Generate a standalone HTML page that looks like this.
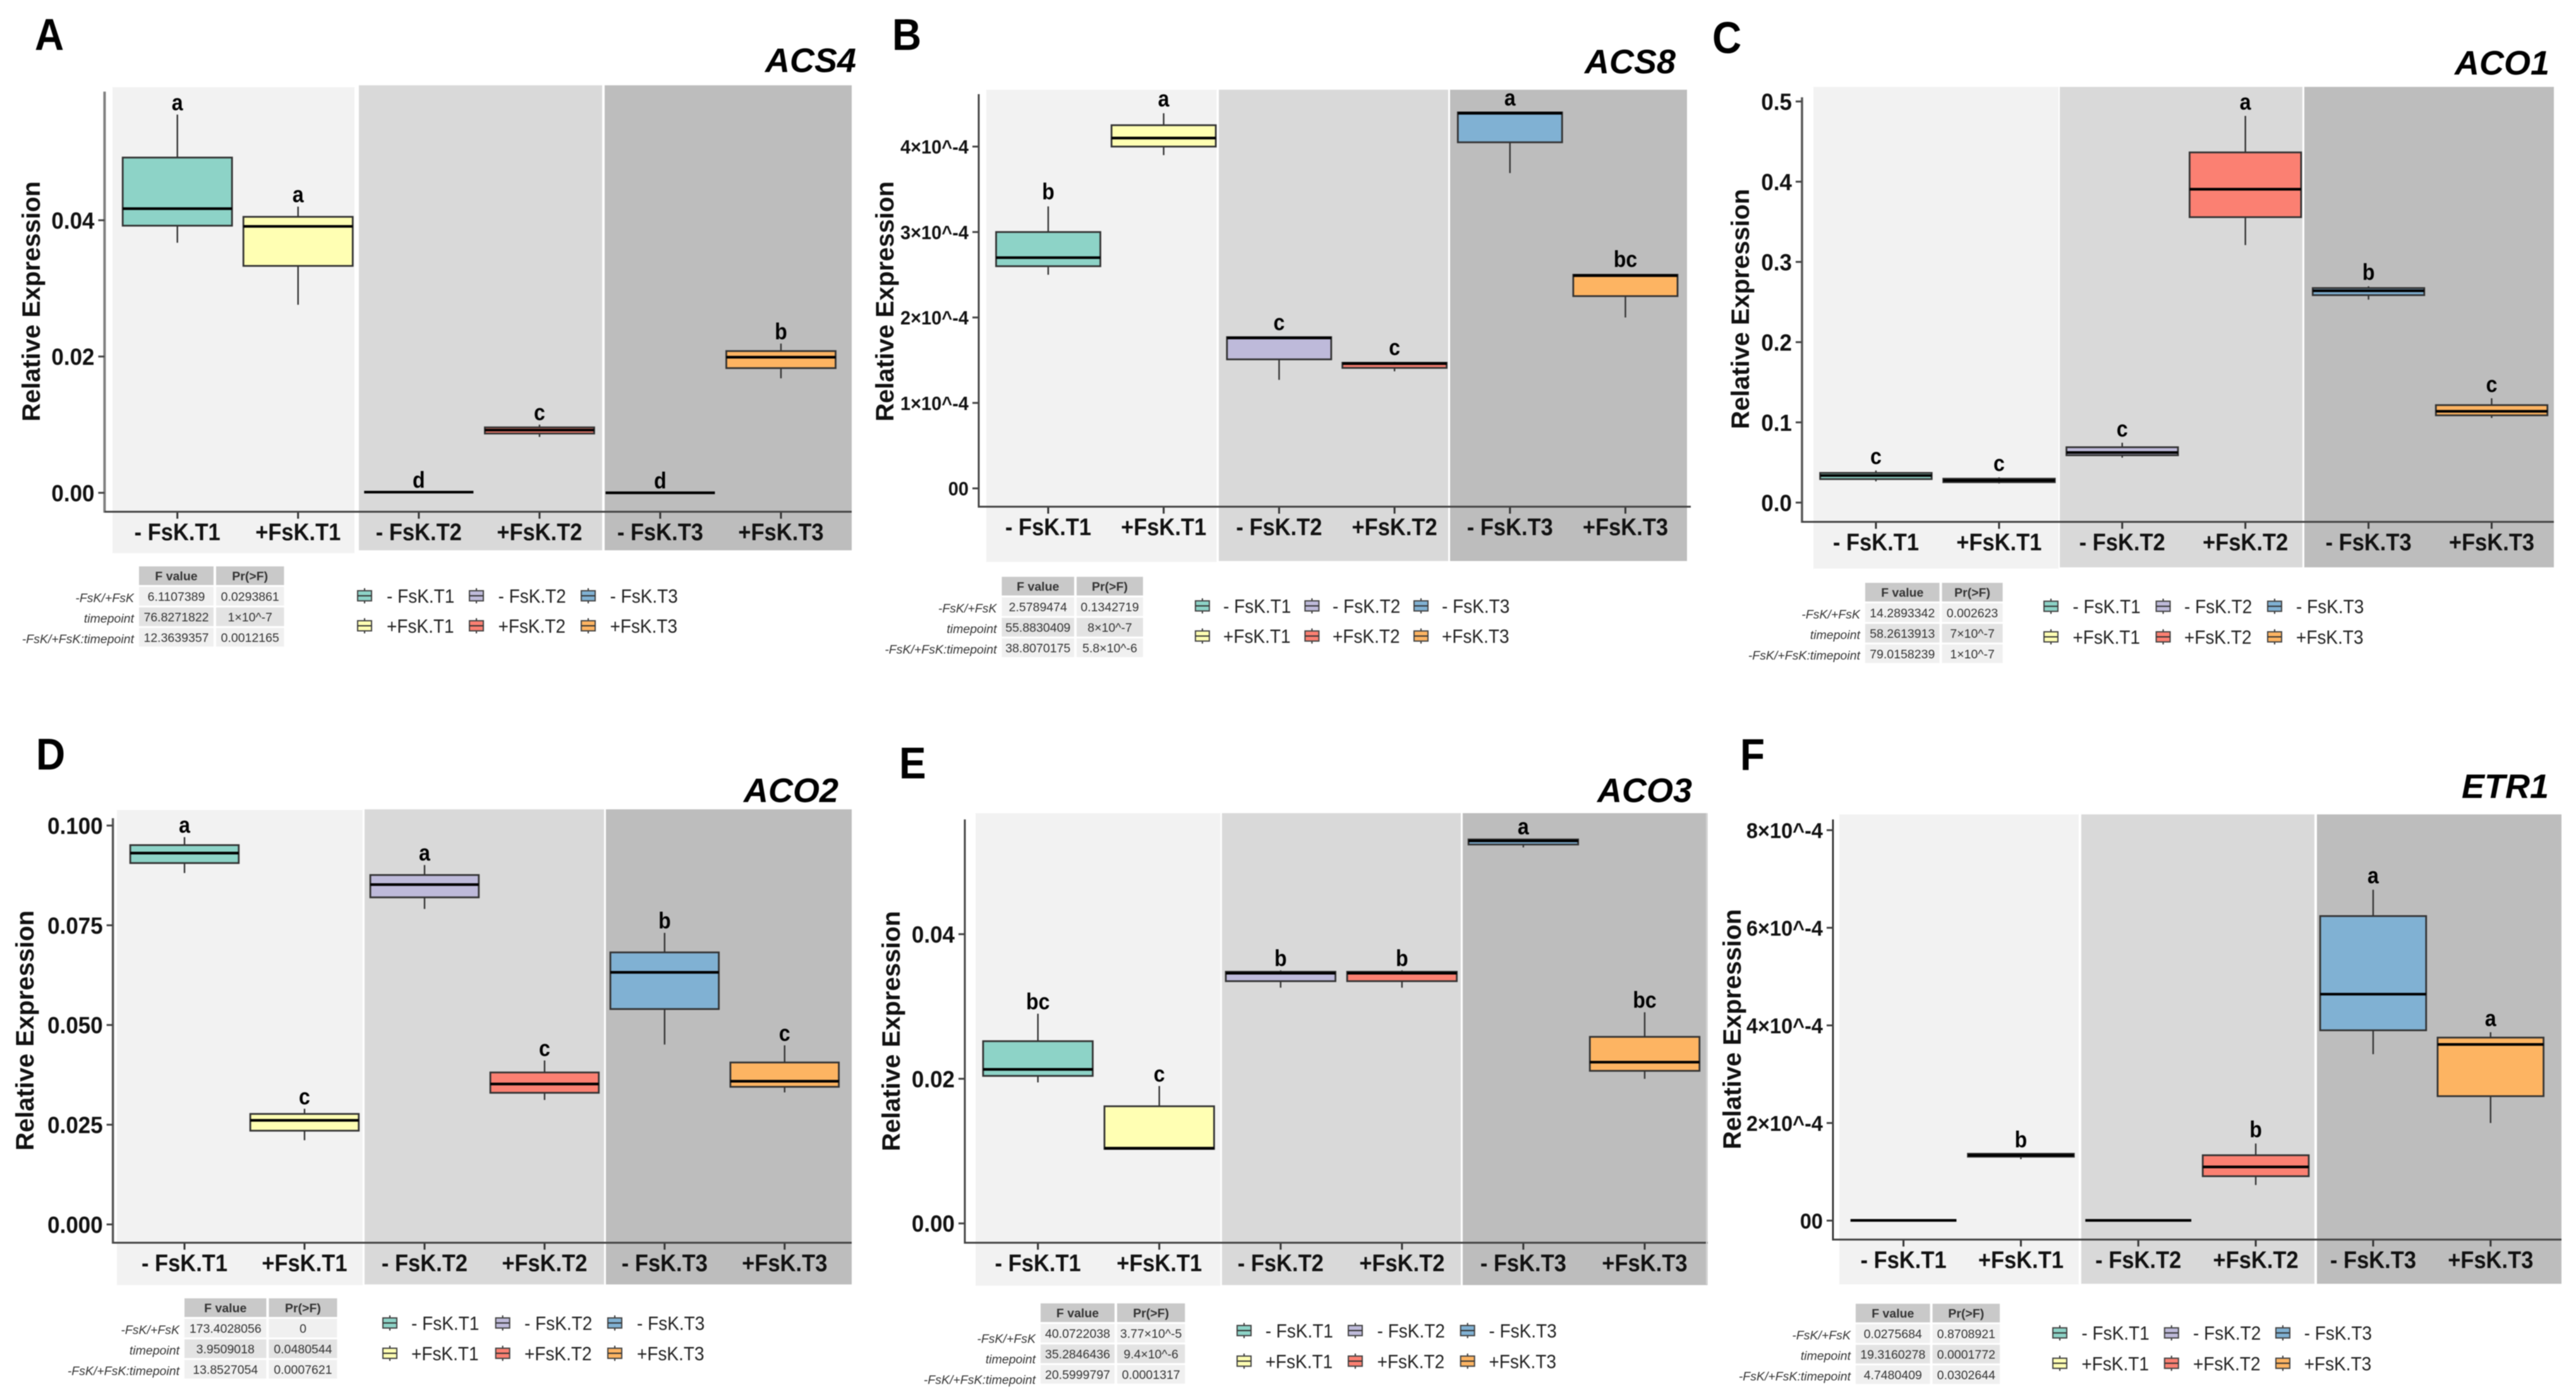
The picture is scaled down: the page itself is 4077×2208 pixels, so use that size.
<!DOCTYPE html>
<html lang="en">
<head>
<meta charset="utf-8">
<title>Relative expression of ethylene genes</title>
<style>
html,body{margin:0;padding:0;background:#fff;}
#figure{display:block;width:4077px;height:2208px;background:#fff;filter:blur(0.9px);font-family:"Liberation Sans",Arial,sans-serif;}
</style>
</head>
<body>
<svg id="figure" xmlns="http://www.w3.org/2000/svg" width="4077" height="2208" viewBox="0 0 4077 2208"></svg>
<script>
/* ---------- shared categories ---------- */
const categories = ['- FsK.T1', '+FsK.T1', '- FsK.T2', '+FsK.T2', '- FsK.T3', '+FsK.T3'];
const seriesColors = ['#8DD3C7', '#FFFFB3', '#BEBADA', '#FB8072', '#80B1D3', '#FDB462'];
const statHeaders = ['F value', 'Pr(>F)'];
const statRowLabels = ['-FsK/+FsK', 'timepoint', '-FsK/+FsK:timepoint'];

/* ---------- ACS4 ---------- */
const acs4High = [0.0555, 0.0420, 0.0001, 0.0100, 0.0000, 0.0219];
const acs4Q3 = [0.0492, 0.0405, 0.0001, 0.0096, 0.0000, 0.0208];
const acs4Median = [0.0417, 0.0391, 0.0001, 0.0092, 0.0000, 0.0199];
const acs4Q1 = [0.0392, 0.0333, 0.0001, 0.0087, 0.0000, 0.0183];
const acs4Low = [0.0367, 0.0276, 0.0001, 0.0082, 0.0000, 0.0168];
const acs4Letters = ['a', 'a', 'd', 'c', 'd', 'b'];
const acs4Ticks = [0, 0.02, 0.04];
const acs4TickLabels = ['0.00', '0.02', '0.04'];
const acs4FValues = ['6.1107389', '76.8271822', '12.3639357'];
const acs4PValues = ['0.0293861', '1×10^-7', '0.0012165'];

/* ---------- ACS8 ---------- */
const acs8High = [0.000330, 0.000439, 0.000177, 0.000148, 0.000440, 0.000251];
const acs8Q3 = [0.000300, 0.000425, 0.000177, 0.000147, 0.000440, 0.000250];
const acs8Median = [0.000270, 0.000410, 0.000176, 0.000146, 0.000439, 0.000249];
const acs8Q1 = [0.000260, 0.000400, 0.000151, 0.000141, 0.000405, 0.000225];
const acs8Low = [0.000250, 0.000390, 0.000127, 0.000137, 0.000369, 0.000200];
const acs8Letters = ['b', 'a', 'c', 'c', 'a', 'bc'];
const acs8Ticks = [0, 0.0001, 0.0002, 0.0003, 0.0004];
const acs8TickLabels = ['00', '1×10^-4', '2×10^-4', '3×10^-4', '4×10^-4'];
const acs8FValues = ['2.5789474', '55.8830409', '38.8070175'];
const acs8PValues = ['0.1342719', '8×10^-7', '5.8×10^-6'];

/* ---------- ACO1 ---------- */
const aco1High = [0.040, 0.0315, 0.0746, 0.482, 0.2696, 0.130];
const aco1Q3 = [0.037, 0.0298, 0.069, 0.4365, 0.2674, 0.1215];
const aco1Median = [0.0337, 0.0276, 0.0624, 0.3906, 0.264, 0.1138];
const aco1Q1 = [0.0293, 0.0254, 0.059, 0.3558, 0.2586, 0.1088];
const aco1Low = [0.0265, 0.0238, 0.056, 0.321, 0.253, 0.1055];
const aco1Letters = ['c', 'c', 'c', 'a', 'b', 'c'];
const aco1Ticks = [0, 0.1, 0.2, 0.3, 0.4, 0.5];
const aco1TickLabels = ['0.0', '0.1', '0.2', '0.3', '0.4', '0.5'];
const aco1FValues = ['14.2893342', '58.2613913', '79.0158239'];
const aco1PValues = ['0.002623', '7×10^-7', '1×10^-7'];

/* ---------- ACO2 ---------- */
const aco2High = [0.0971, 0.0290, 0.0901, 0.0411, 0.0731, 0.0449];
const aco2Q3 = [0.0951, 0.0277, 0.0876, 0.0381, 0.0682, 0.0406];
const aco2Median = [0.0931, 0.0261, 0.0852, 0.0352, 0.0632, 0.0359];
const aco2Q1 = [0.0906, 0.0235, 0.0820, 0.0330, 0.0540, 0.0345];
const aco2Low = [0.0881, 0.0211, 0.0791, 0.0312, 0.0451, 0.0331];
const aco2Letters = ['a', 'c', 'a', 'c', 'b', 'c'];
const aco2Ticks = [0, 0.025, 0.05, 0.075, 0.1];
const aco2TickLabels = ['0.000', '0.025', '0.050', '0.075', '0.100'];
const aco2FValues = ['173.4028056', '3.9509018', '13.8527054'];
const aco2PValues = ['0', '0.0480544', '0.0007621'];

/* ---------- ACO3 ---------- */
const aco3High = [0.0290, 0.0190, 0.0350, 0.0350, 0.0532, 0.0292];
const aco3Q3 = [0.0252, 0.0162, 0.0348, 0.0348, 0.0531, 0.0258];
const aco3Median = [0.0213, 0.0104, 0.0346, 0.0346, 0.0529, 0.0223];
const aco3Q1 = [0.0204, 0.0103, 0.0335, 0.0335, 0.0524, 0.0211];
const aco3Low = [0.0195, 0.0103, 0.0326, 0.0326, 0.0520, 0.0200];
const aco3Letters = ['bc', 'c', 'b', 'b', 'a', 'bc'];
const aco3Ticks = [0, 0.02, 0.04];
const aco3TickLabels = ['0.00', '0.02', '0.04'];
const aco3FValues = ['40.0722038', '35.2846436', '20.5999797'];
const aco3PValues = ['3.77×10^-5', '9.4×10^-6', '0.0001317'];

/* ---------- ETR1 ---------- */
const etr1High = [0.0000005, 0.000137, 0.0000005, 0.000158, 0.000678, 0.000386];
const etr1Q3 = [0.0000005, 0.000137, 0.0000005, 0.000134, 0.000624, 0.000375];
const etr1Median = [0.0000005, 0.000134, 0.0000005, 0.000110, 0.000464, 0.000361];
const etr1Q1 = [0.0000005, 0.000131, 0.0000005, 0.000091, 0.000390, 0.000255];
const etr1Low = [0.0000005, 0.000126, 0.0000005, 0.000073, 0.000341, 0.000200];
const etr1Letters = ['', 'b', '', 'b', 'a', 'a'];
const etr1Ticks = [0, 0.0002, 0.0004, 0.0006, 0.0008];
const etr1TickLabels = ['00', '2×10^-4', '4×10^-4', '6×10^-4', '8×10^-4'];
const etr1FValues = ['0.0275684', '19.3160278', '4.7480409'];
const etr1PValues = ['0.8708921', '0.0001772', '0.0302644'];

/* ---------- panel wiring (data + layout frame) ---------- */
const panels = [
 {id:'acs4', gene:'ACS4', letter:'A', high:acs4High, q3:acs4Q3, med:acs4Median, q1:acs4Q1, low:acs4Low, sig:acs4Letters, ticks:acs4Ticks, tickLabels:acs4TickLabels, fv:acs4FValues, pv:acs4PValues,
  frame:{lx:55, ly:79, titleR:1355, titleY:114, yTitleX:63, yTitleY:477, axisX:165.5, axisTop:145, axisY:810, axisR:1348, c0:280.7, c5:1236, boxW:173, zeroPx:780, refVal:0.04, refPx:348.6, tickSize:35, gap:7, axisColor:'#808080', axisW:4,
   bands:[[178,561,138,875.5],[568,953,135,871],[957,1348,135,871]],
   table:[220,896.5,119,108.5,2], keys:[577,754,931], keyText:[612,788.5,965.5], rows:[943,990.5]}},
 {id:'acs8', gene:'ACS8', letter:'B', high:acs8High, q3:acs8Q3, med:acs8Median, q1:acs8Q1, low:acs8Low, sig:acs8Letters, ticks:acs8Ticks, tickLabels:acs8TickLabels, fv:acs8FValues, pv:acs8PValues,
  frame:{lx:1412, ly:79, titleR:2652, titleY:116, yTitleX:1414, yTitleY:477, axisX:1549, axisTop:149, axisY:802, axisR:2676, c0:1659, c5:2572.5, boxW:165, zeroPx:773, refVal:0.0004, refPx:232, tickSize:29, gap:11, axisColor:'#444', axisW:3,
   bands:[[1561,1925.5,142,889.5],[1929,2292,142,888],[2295,2670,142,888]],
   table:[1585.5,913,115.5,106,2], keys:[1903,2076.4,2249], keyText:[1936,2109,2282], rows:[959,1006.7]}},
 {id:'aco1', gene:'ACO1', letter:'C', high:aco1High, q3:aco1Q3, med:aco1Median, q1:aco1Q1, low:aco1Low, sig:aco1Letters, ticks:aco1Ticks, tickLabels:aco1TickLabels, fv:aco1FValues, pv:aco1PValues,
  frame:{lx:2710, ly:84, titleR:4035, titleY:118, yTitleX:2768, yTitleY:489, axisX:2852, axisTop:154, axisY:826, axisR:4042, c0:2969, c5:3943.5, boxW:176.5, zeroPx:795.5, refVal:0.5, refPx:160.6, tickSize:35, gap:10, axisColor:'#555', axisW:3.5,
   bands:[[2870,3258,137.5,900],[3260,3644,137.5,898],[3647,4042,137.5,898]],
   table:[2952,922.5,118.6,97,2], keys:[3246,3423.6,3600], keyText:[3280.5,3457,3634], rows:[959.6,1008]}},
 {id:'aco2', gene:'ACO2', letter:'D', high:aco2High, q3:aco2Q3, med:aco2Median, q1:aco2Q1, low:aco2Low, sig:aco2Letters, ticks:aco2Ticks, tickLabels:aco2TickLabels, fv:aco2FValues, pv:aco2PValues,
  frame:{lx:57, ly:1218, titleR:1327, titleY:1269.6, yTitleX:53, yTitleY:1631, axisX:178.7, axisTop:1295, axisY:1967, axisR:1348, c0:292, c5:1241.8, boxW:171.6, zeroPx:1938, refVal:0.1, refPx:1306.7, tickSize:35, gap:7, axisColor:'#555', axisW:3.5,
   bands:[[185,574,1282,2034],[577,956,1281,2033],[959,1348,1281,2033]],
   table:[292,2055,130.5,109,2], keys:[617,795.6,973], keyText:[651,830,1008], rows:[2094,2142]}},
 {id:'aco3', gene:'ACO3', letter:'E', high:aco3High, q3:aco3Q3, med:aco3Median, q1:aco3Q1, low:aco3Low, sig:aco3Letters, ticks:aco3Ticks, tickLabels:aco3TickLabels, fv:aco3FValues, pv:aco3PValues,
  frame:{lx:1423, ly:1232, titleR:2678, titleY:1269.6, yTitleX:1424, yTitleY:1632, axisX:1527, axisTop:1297, axisY:1967, axisR:2702.6, c0:1642.7, c5:2603, boxW:173.5, zeroPx:1936.4, refVal:0.04, refPx:1478.6, tickSize:35, gap:7, axisColor:'#444', axisW:3,
   bands:[[1544,1931.5,1287,2035],[1934,2312,1287,2034],[2315,2702.6,1287,2034]],
   table:[1647,2063,118,108.4,8], keys:[1969,2145,2322.7], keyText:[2002.7,2179.6,2356.5], rows:[2106,2154.4]}},
 {id:'etr1', gene:'ETR1', letter:'F', high:etr1High, q3:etr1Q3, med:etr1Median, q1:etr1Q1, low:etr1Low, sig:etr1Letters, ticks:etr1Ticks, tickLabels:etr1TickLabels, fv:etr1FValues, pv:etr1PValues,
  frame:{lx:2754, ly:1219, titleR:4034, titleY:1263, yTitleX:2755, yTitleY:1629, axisX:2901, axisTop:1297, axisY:1962, axisR:4054, c0:3012.6, c5:3941.8, boxW:167.7, zeroPx:1932, refVal:0.0008, refPx:1314, tickSize:32.5, gap:10, axisColor:'#222', axisW:2.6,
   bands:[[2911,3290,1289,2033],[3294,3663,1289,2032],[3667,4054,1289,2032]],
   table:[2937,2063.6,118.6,107.5,2], keys:[3260,3436.8,3613], keyText:[3294.5,3471,3646.7], rows:[2109.7,2157.8]}}
];
const bandColors = ['#F2F2F2', '#D9D9D9', '#BDBDBD'];

/* ---------- drawing ---------- */
const SVGNS = 'http://www.w3.org/2000/svg';
const root = document.getElementById('figure');

function shape(parent, tag, attrs) {
  const node = document.createElementNS(SVGNS, tag);
  for (const k in attrs) node.setAttribute(k, attrs[k]);
  parent.appendChild(node);
  return node;
}
function label(parent, x, y, str, attrs) {
  const node = shape(parent, 'text', Object.assign({x: x, y: y}, attrs));
  node.textContent = str;
  return node;
}
/* text with the slight vertical stretch seen in the reference */
function tallLabel(parent, x, y, str, stretch, attrs) {
  const node = shape(parent, 'text', Object.assign({x: 0, y: 0, transform: 'translate(' + x + ' ' + y + ') scale(1 ' + stretch + ')'}, attrs));
  node.textContent = str;
  return node;
}
function line(parent, x1, y1, x2, y2, color, width) {
  return shape(parent, 'line', {x1: x1, y1: y1, x2: x2, y2: y2, stroke: color, 'stroke-width': width});
}

panels.forEach(function (p) {
  const f = p.frame;
  const yScale = function (v) { return f.zeroPx + (v / f.refVal) * (f.refPx - f.zeroPx); };
  const xScale = function (i) { return f.c0 + i * (f.c5 - f.c0) / (categories.length - 1); };
  let el;

  const g = shape(root, 'g', {});
  
  

  /* background bands */
  f.bands.forEach(function (b, i) {
    el = shape(g, 'rect', {x: b[0], y: b[2], width: b[1] - b[0], height: b[3] - b[2], fill: bandColors[i]});
    
    
  });

  /* panel letter + gene title */
  el = tallLabel(g, f.lx, f.ly, p.letter, 1.1, {'font-size': 64, 'font-weight': 700, fill: '#000'});
  
  
  el = label(g, f.titleR, f.titleY, p.gene, {'font-size': 54, 'font-weight': 700, 'font-style': 'italic', 'text-anchor': 'end', fill: '#000'});
  
  

  /* y title */
  el = label(g, f.yTitleX, f.yTitleY, 'Relative Expression', {'font-size': 40, 'font-weight': 700, 'text-anchor': 'middle', fill: '#111', transform: 'rotate(-90 ' + f.yTitleX + ' ' + f.yTitleY + ')'});
  
  

  /* boxes */
  categories.forEach(function (cat, i) {
    const cx = xScale(i);
    const hw = f.boxW / 2;
    const box = shape(g, 'g', {});
    
    

    el = line(box, cx, yScale(p.high[i]), cx, yScale(p.q3[i]), '#333', 2.4);
    
    
    el = line(box, cx, yScale(p.q1[i]), cx, yScale(p.low[i]), '#333', 2.4);
    
    
    el = shape(box, 'rect', {x: cx - hw, y: yScale(p.q3[i]), width: f.boxW, height: yScale(p.q1[i]) - yScale(p.q3[i]), fill: seriesColors[i], stroke: '#333', 'stroke-width': 2.8});
    
    
    el = line(box, cx - hw, yScale(p.med[i]), cx + hw, yScale(p.med[i]), '#000', 4.2);
    
    

    if (p.sig[i]) {
      el = tallLabel(box, cx, yScale(p.high[i]) - f.gap, p.sig[i], 1.12, {'font-size': 32, 'font-weight': 700, 'text-anchor': 'middle', fill: '#000'});
      
      
    }

    el = line(g, cx, f.axisY, cx, f.axisY + 11, '#333', 3);
    
    
    el = tallLabel(g, cx, f.axisY + 45, cat, 1.09, {'font-size': 34.5, 'font-weight': 700, 'text-anchor': 'middle', fill: '#111'});
    
    
  });

  /* axes */
  el = line(g, f.axisX, f.axisTop, f.axisX, f.axisY + 1.5, f.axisColor, f.axisW);
  
  
  el = line(g, f.axisX, f.axisY, f.axisR, f.axisY, '#444', 3);
  
  

  p.ticks.forEach(function (t, i) {
    const y = yScale(t);
    el = line(g, f.axisX - 10, y, f.axisX, y, '#444', 3);
    
    
    el = tallLabel(g, f.axisX - 16, y + f.tickSize * 0.38, p.tickLabels[i], 1.05, {'font-size': f.tickSize, 'font-weight': 700, 'text-anchor': 'end', fill: '#111'});
    
    
  });

  /* stats table */
  const t = f.table;
  const tx = t[0], ty = t[1], w1 = t[2] - 1, w2 = t[3] - 1, labelDy = t[4];
  const tbl = shape(g, 'g', {});
  
  
  const col2 = tx + w1 + 4;
  for (let r = 0; r < 4; r++) {
    const ry = ty + r * 32.5;
    const fill = r === 0 ? '#C9C9C9' : (r === 2 ? '#E3E3E3' : '#F0F0F0');
    el = shape(tbl, 'rect', {x: tx, y: ry, width: w1, height: 29.5, fill: fill});
    
    
    el = shape(tbl, 'rect', {x: col2, y: ry, width: w2, height: 29.5, fill: fill});
    
    
    const by = ry + 22;
    if (r === 0) {
      el = label(tbl, tx + w1 / 2, by, statHeaders[0], {'font-size': 19.5, 'font-weight': 700, 'text-anchor': 'middle', fill: '#333'});
      
      
      el = label(tbl, col2 + w2 / 2, by, statHeaders[1], {'font-size': 19.5, 'font-weight': 700, 'text-anchor': 'middle', fill: '#333'});
      
      
    } else {
      el = label(tbl, tx - 8, by + labelDy, statRowLabels[r - 1], {'font-size': 19.5, 'font-style': 'italic', 'text-anchor': 'end', fill: '#333'});
      
      
      el = label(tbl, tx + w1 / 2, by, p.fv[r - 1], {'font-size': 19.5, 'text-anchor': 'middle', fill: '#333'});
      
      
      el = label(tbl, col2 + w2 / 2, by, p.pv[r - 1], {'font-size': 19.5, 'text-anchor': 'middle', fill: '#333'});
      
      
    }
  }

  /* legend */
  const leg = shape(g, 'g', {});
  
  
  categories.forEach(function (cat, i) {
    const col = Math.floor(i / 2), row = i % 2;
    const kx = f.keys[col], ky = f.rows[row];
    const entry = shape(leg, 'g', {});
    
    
    el = line(entry, kx, ky - 12, kx, ky + 12, '#333', 2);
    
    
    el = shape(entry, 'rect', {x: kx - 11, y: ky - 8, width: 22, height: 16, fill: seriesColors[i], stroke: '#444', 'stroke-width': 2});
    
    
    el = line(entry, kx - 11, ky, kx + 11, ky, '#333', 2);
    
    
    el = tallLabel(entry, f.keyText[col], ky + 11, cat, 1.1, {'font-size': 28, fill: '#222'});
    
    
  });
});

/* thin stray crop edge left of panel F */
const cropEdge = line(root, 2701, 1287, 2701, 2033, '#D4D4D4', 2);


</script>
</body>
</html>
